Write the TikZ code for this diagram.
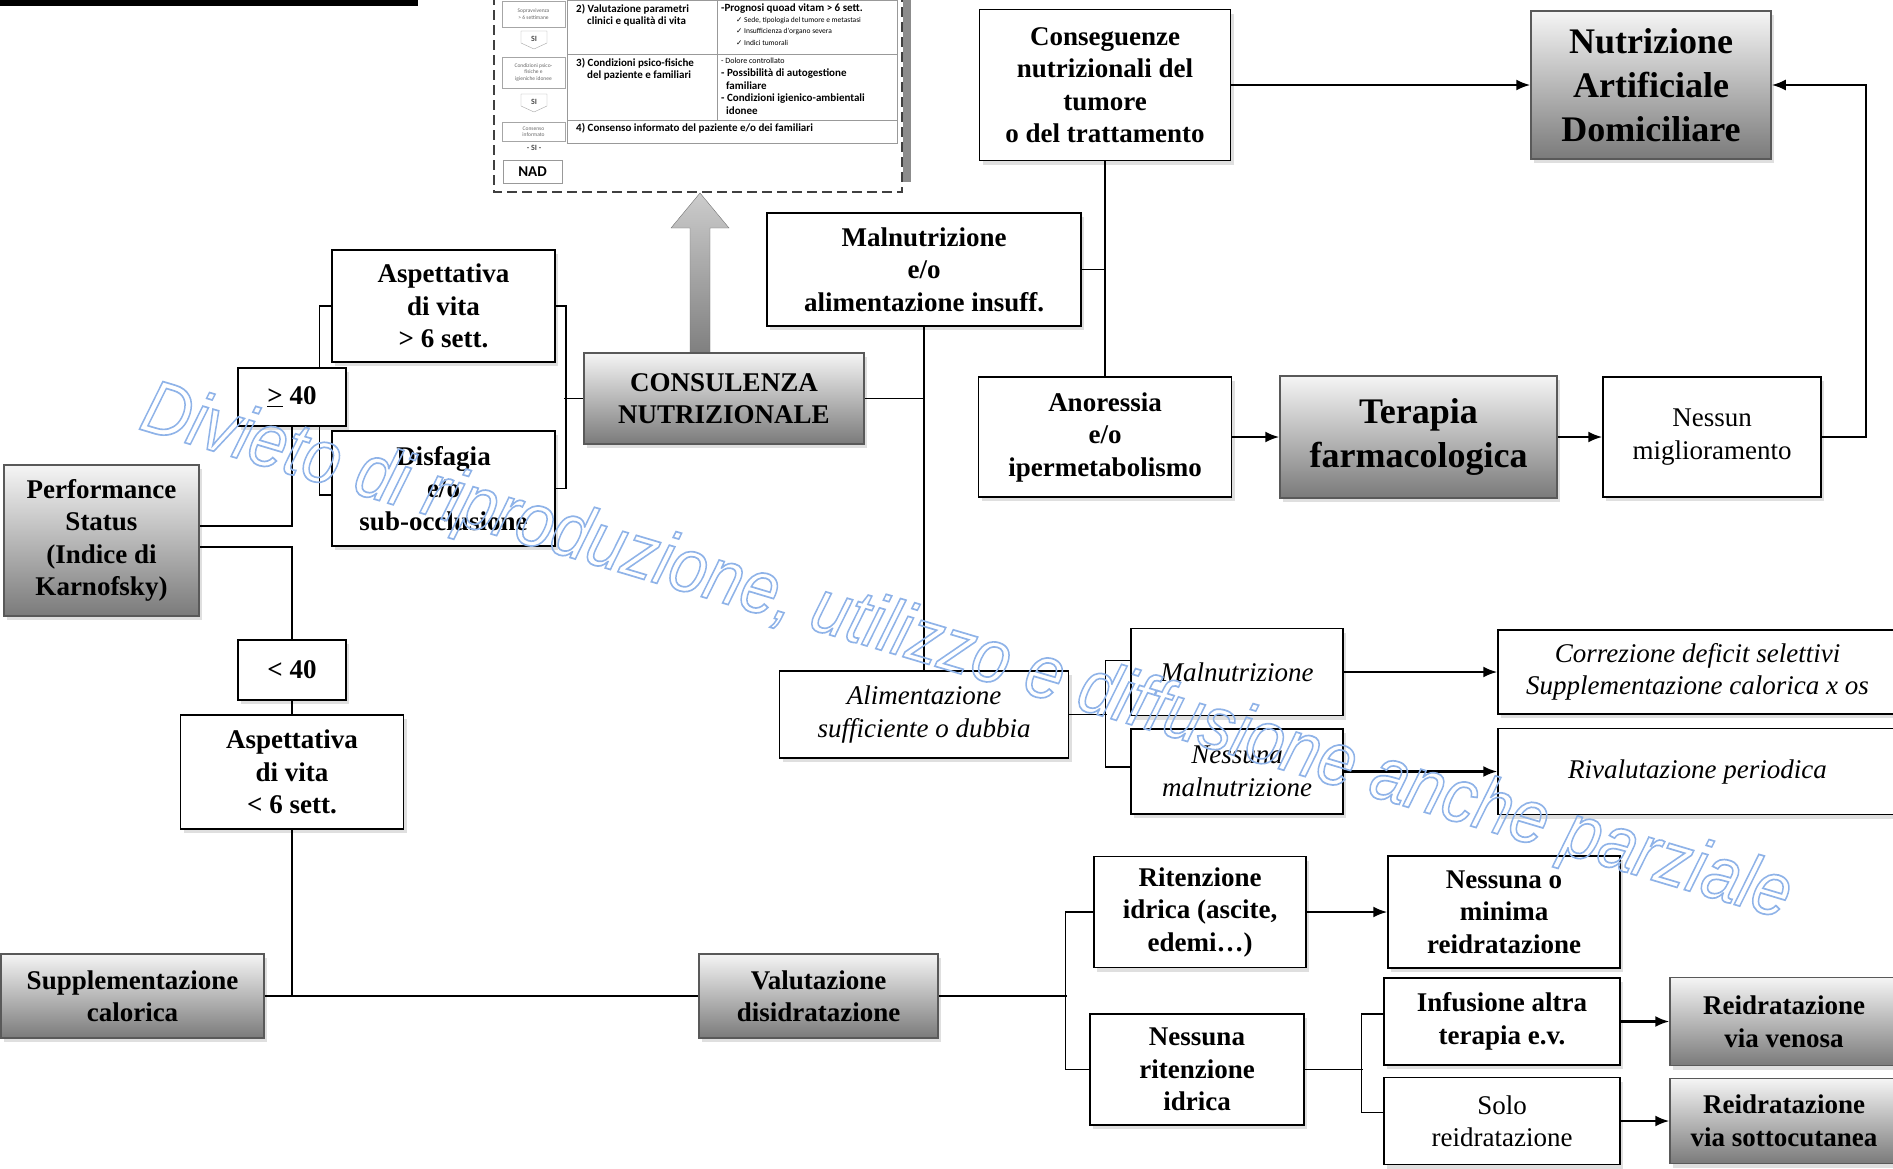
\documentclass[tikz,border=0pt]{standalone}
\usepackage{fontspec}
\setmainfont{Liberation Serif}
\newfontfamily\tabfont{Carlito}
\newfontfamily\symfont{DejaVu Sans}
\newfontfamily\wmfont{Liberation Sans}
\usetikzlibrary{arrows.meta,shadows}
\definecolor{wmblue}{HTML}{8FB3E8}
\newcommand{\wmoutline}{\special{pdf:literal direct 1 Tr 1.7 w}}
\newcommand{\wmreset}{\special{pdf:literal direct 0 Tr}}
\newcommand{\tick}{{\symfont\char"2713}}
\tikzset{
  dims/.style 2 args={minimum width=#1pt, minimum height=#2pt},
  box/.style={draw=black, line width=1.5pt, fill=white, align=center, inner sep=0pt,
    font=\fontsize{27}{32.5}\selectfont\bfseries,
    drop shadow={shadow xshift=3pt, shadow yshift=-4pt, opacity=0.25}},
  itbox/.style={box, font=\fontsize{27}{32.5}\selectfont\itshape},
  greybox/.style={box, draw=black!65, top color=black!4, bottom color=black!52},
  bigtext/.style={font=\fontsize{36}{44}\selectfont\bfseries},
  link/.style={line width=1.5pt},
  arr/.style={line width=2.2pt, -{Latex[length=14pt,width=11pt]}},
  tabtext/.style={anchor=north west, align=left, inner sep=0pt, font=\tabfont\bfseries\fontsize{11}{12.5}\selectfont},
  tiny/.style={align=center, inner sep=0pt, text=black!60, font=\tabfont\fontsize{5.5}{6.5}\selectfont},
}
\begin{document}
\begin{tikzpicture}[x=1pt,y=-1pt]
    \useasboundingbox (0,0) rectangle (1893,1168);
    \fill[black] (0,0) rectangle (418,6);

    % small table (NAD criteria)
    \fill[black!45] (903,0) rectangle (911,182);
    \draw[black!75, line width=1.5pt, dash pattern=on 10pt off 5pt] (494,-5) -- (494,192) -- (902,192) -- (902,-5);
    \draw[black!40, line width=0.8pt] (567,0) rectangle (897,143);
    \draw[black!40, line width=0.8pt] (567,54) -- (897,54);
    \draw[black!40, line width=0.8pt] (567,120) -- (897,120);
    \draw[black!40, line width=0.8pt] (717,0) -- (717,120);
    \draw[black!35] (502,1) rectangle (565,27);
    \draw[black!35] (502,57) rectangle (565,88);
    \draw[black!35] (502,122) rectangle (565,141);
    \node[tiny] (c1) at (533.5,14) {Sopravvivenza\\> 6 settimane};
    \node[tiny] (c2) at (533.5,72.5) {Condizioni psico-\\fisiche e\\igieniche idonee};
    \node[tiny] (c3) at (533.5,131.5) {Consenso\\informato};
    \draw[black!35] (521,31) -- (547,31) -- (547,43) -- (534,49) -- (521,43) -- cycle;
    \draw[black!35] (521,94) -- (547,94) -- (547,106) -- (534,112) -- (521,106) -- cycle;
    \node[font=\tabfont\bfseries\fontsize{8}{8}\selectfont, text=black!70] (si1) at (534,39) {SI};
    \node[font=\tabfont\bfseries\fontsize{8}{8}\selectfont, text=black!70] (si2) at (534,102) {SI};
    \node[font=\tabfont\bfseries\fontsize{8}{8}\selectfont, text=black!70] (si3) at (534,148) {- SI -};
    \node[draw=black!40, line width=0.8pt, dims={59}{23}, font=\tabfont\bfseries\fontsize{15}{15}\selectfont] (nadbox) at (532.5,171.5) {NAD};
    \node[tabtext] (t2) at (576,4) {2) Valutazione parametri\\\quad clinici e qualità di vita};
    \node[tabtext] (t3) at (576,58) {3) Condizioni psico-fisiche\\\quad del paziente e familiari};
    \node[tabtext] (t4) at (576,123) {4) Consenso informato del paziente e/o dei familiari};
    \node[tabtext] (r1) at (721,4) {-Prognosi quoad vitam > 6 sett.};
    \node[tabtext, font=\tabfont\fontsize{7.5}{11.5}\selectfont] (r1b) at (736,17) {\tick\ Sede, tipologia del tumore e metastasi\\\tick\ Insufficienza d'organo severa\\\tick\ Indici tumorali};
    \node[tabtext, font=\tabfont\fontsize{8}{9}\selectfont] (r2) at (721,58) {- Dolore controllato};
    \node[tabtext] (r2b) at (721,69) {- Possibilità di autogestione\\\ \ familiare\\- Condizioni igienico-ambientali\\\ \ idonee};
    \path[draw=black!55, top color=black!20, bottom color=black!50] (700,193) -- (729,228) -- (710,228) -- (710,353) -- (690,353) -- (690,228) -- (671,228) -- cycle;

    % boxes
    \node[box, dims={251}{151}] (conseq) at (1105,85) {Conseguenze\\nutrizionali del\\tumore\\o del trattamento};
    \node[greybox, bigtext, dims={240}{148}] (nad) at (1651,85) {Nutrizione\\Artificiale\\Domiciliare};
    \node[box, dims={314}{113}] (malnut) at (924,269.5) {Malnutrizione\\e/o\\alimentazione insuff.};
    \node[box, dims={223}{112}] (asp1) at (443.5,306) {Aspettativa\\di vita\\> 6 sett.};
    \node[greybox, dims={280}{91}] (consul) at (724,398.5) {CONSULENZA\\NUTRIZIONALE};
    \node[box, dims={223}{115}] (disf) at (443.5,488.5) {Disfagia\\e/o\\sub-occlusione};
    \node[greybox, dims={195}{151}] (perf) at (101.5,540.5) {Performance\\Status\\(Indice di\\Karnofsky)};
    \node[box, dims={253}{120}] (anor) at (1105,437) {Anoressia\\e/o\\ipermetabolismo};
    \node[greybox, bigtext, dims={277}{122}] (terapia) at (1418.5,437) {Terapia\\farmacologica};
    \node[box, font=\fontsize{27}{32.5}\selectfont, dims={218}{120}] (nessun) at (1712,437) {Nessun\\miglioramento};
    \node[box, dims={108}{60}] (lt40) at (292,670) {< 40};
    \node[box, dims={223}{114}] (asp2) at (292,772) {Aspettativa\\di vita\\< 6 sett.};
    \node[itbox, dims={289}{87}] (alim) at (924,714.5) {Alimentazione\\sufficiente o dubbia};
    \node[itbox, dims={212}{87}] (malit) at (1237,672) {Malnutrizione};
    \node[itbox, dims={212}{85}] (nomal) at (1237,771.5) {Nessuna\\malnutrizione};
    \node[itbox, dims={399}{84}] (correz) at (1697.5,672) {Correzione deficit selettivi\\Supplementazione calorica x os};
    \node[itbox, dims={399}{86}] (rival) at (1697.5,771.5) {Rivalutazione periodica};
    \node[box, dims={212}{111}] (riten) at (1200,912) {Ritenzione\\idrica (ascite,\\edemi\dots)};
    \node[box, dims={232}{112}] (minima) at (1504,912) {Nessuna o\\minima\\reidratazione};
    \node[greybox, dims={263}{84}] (suppl) at (132.5,996) {Supplementazione\\calorica};
    \node[greybox, dims={239}{84}] (valut) at (818.5,996) {Valutazione\\disidratazione};
    \node[box, dims={214}{111}] (noriten) at (1197,1069.5) {Nessuna\\ritenzione\\idrica};
    \node[box, dims={236}{87}] (infus) at (1502,1021.5) {Infusione altra\\terapia e.v.};
    \node[greybox, dims={228}{88}] (venosa) at (1784,1021.5) {Reidratazione\\via venosa};
    \node[box, font=\fontsize{27}{32.5}\selectfont, dims={236}{87}] (solo) at (1502,1121) {Solo\\reidratazione};
    \node[greybox, dims={228}{85}] (sottoc) at (1784,1121) {Reidratazione\\via sottocutanea};

    % left branch
    \draw[link] (asp1.west) -- ++(-12,0) |- ([yshift=-6.5pt]disf.west);
    \node[box, dims={108}{58}] (ge40) at (292,397) {\underline{>} 40};
    \draw[link] ([yshift=14.5pt]perf.east) -| (ge40.south);
    \draw[link] ([yshift=-6.5pt]perf.east) -| (lt40.north);
    \draw[link] (lt40.south) -- (asp2.north);
    \draw[link] (asp2.south) -- (asp2.south |- suppl.east);
    \draw[link] (suppl.east) -- (valut.west);
    \draw[link] (asp1.east) -- ++(10,0) |- (disf.east);
    \draw[link] (consul.west) -- ++(-19,0);

    % consulenza branch
    \draw[link] (consul.east) -| (malnut.south);
    \draw[link] (malnut.south) -- (alim.north);
    \draw[link] (conseq.south) -- (anor.north);
    \draw[link] (malnut.east) -- (malnut.east -| conseq.south);
    \draw[arr] (conseq.east) -- (nad.west);
    \draw[arr] (anor.east) -- (terapia.west);
    \draw[arr] (terapia.east) -- (nessun.west);
    \draw[arr] (nessun.east) -- ++(44,0) |- (nad.east);
    \draw[link] (alim.east) -- ++(38,0);
    \draw[link] ([yshift=11.5pt]malit.west) -- ++(-25,0) |- ([yshift=4.5pt]nomal.west);
    \draw[arr] (malit.east) -- (correz.west);
    \draw[arr] (nomal.east) -- (rival.west);

    % hydration branch
    \draw[link] (valut.east) -- ++(128,0);
    \draw[link] (riten.west) -- ++(-28,0) |- (noriten.west);
    \draw[arr] (riten.east) -- (minima.west);
    \draw[link] (noriten.east) -- ++(58,0);
    \draw[link] ([yshift=7.5pt]infus.west) -- ++(-22,0) |- ([yshift=8.5pt]solo.west);
    \draw[arr] (infus.east) -- (venosa.west);
    \draw[arr] (solo.east) -- (sottoc.west);

    % watermark
    \node[rotate=-16.6, xscale=0.88, text=wmblue, font=\wmfont\itshape\fontsize{76}{76}\selectfont] (wm) at (966,655) {\wmoutline Divieto di riproduzione, utilizzo e diffusione anche parziale\wmreset};
\end{tikzpicture}
\end{document}
